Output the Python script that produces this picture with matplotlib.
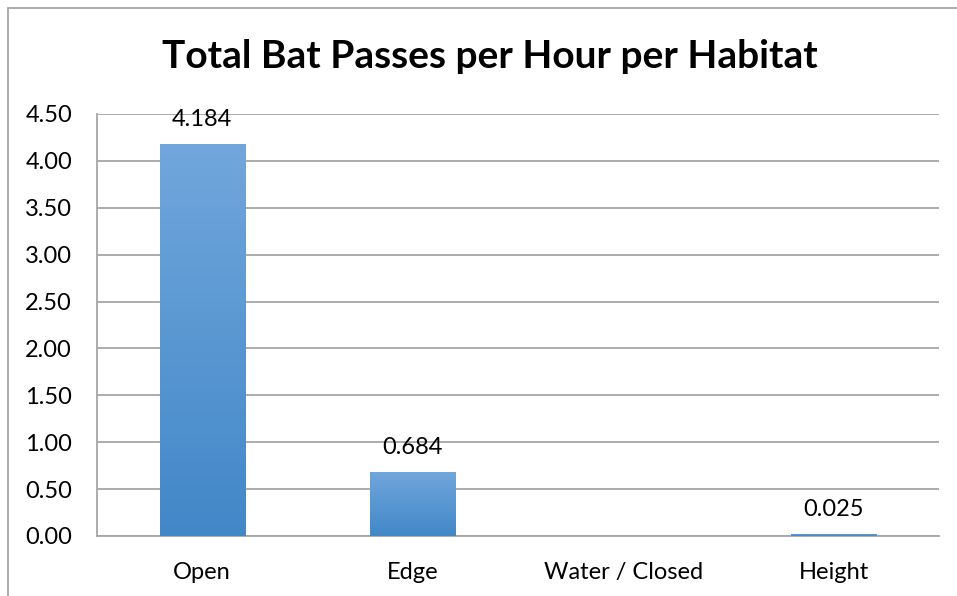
import numpy as np
import matplotlib.pyplot as plt
from matplotlib.patches import Rectangle
from matplotlib.colors import LinearSegmentedColormap

plt.rcParams['font.family'] = ['Lato', 'DejaVu Sans']

habitats = ['Open', 'Edge', 'Water / Closed', 'Height']
passes = [4.184, 0.684, np.nan, 0.025]
labels = ['4.184', '0.684', '', '0.025']
yticks = [0.0, 0.5, 1.0, 1.5, 2.0, 2.5, 3.0, 3.5, 4.0, 4.5]

W, H = 957, 596
fig = plt.figure(figsize=(W / 100, H / 100), dpi=100)
ax = fig.add_axes([97 / W, 1 - 536 / H, (939 - 97) / W, (536 - 114) / H])

# chart frame (cut off at right and bottom like the screenshot)
fig.patches.append(Rectangle((8 / W, -0.1), 1.2, 1 - 8 / H + 0.1, transform=fig.transFigure,
                             fill=False, edgecolor='#a6a6a6', linewidth=1.3))

x = np.arange(len(habitats))
bars = ax.bar(x, np.nan_to_num(passes), width=0.405, color='#5597d3', zorder=2)

# vertical gradient like Excel's default fill
cmap = LinearSegmentedColormap.from_list('g', ['#4287c8', '#71a7dc'])
grad = np.linspace(0, 1, 256).reshape(-1, 1)
for b, v in zip(bars, passes):
    if np.isnan(v) or v <= 0:
        b.set_visible(False)
        continue
    x0, w, h = b.get_x(), b.get_width(), b.get_height()
    im = ax.imshow(grad, cmap=cmap, aspect='auto', origin='lower',
                   extent=(x0, x0 + w, 0, h), zorder=3)
    im.set_clip_path(b)
    b.set_facecolor('none')

for xi, v, lab in zip(x, passes, labels):
    if lab:
        ax.annotate(lab, (xi, v), xytext=(0, 10), textcoords='offset points',
                    ha='center', va='bottom', fontsize=17, color='#000000')

ax.set_xlim(-0.5, len(habitats) - 0.5)
ax.set_ylim(0, 4.5)
ax.set_yticks(yticks)
ax.set_yticklabels([f'{t:.2f}' for t in yticks])
ax.set_xticks(x)
ax.set_xticklabels(habitats)
ax.tick_params(axis='both', length=0, labelsize=17, colors='#000000')
ax.tick_params(axis='y', pad=18)
ax.tick_params(axis='x', pad=19)
ax.yaxis.grid(True, color='#a6a6a6', linewidth=1.3, zorder=0)
ax.set_axisbelow(True)
for s in ['top', 'right']:
    ax.spines[s].set_visible(False)
for s in ['left', 'bottom']:
    ax.spines[s].set_color('#a6a6a6')
    ax.spines[s].set_linewidth(1.3)

fig.text(490 / W, 1 - 57 / H, 'Total Bat Passes per Hour per Habitat', ha='center', va='center',
         fontsize=28, fontweight='bold')

fig.savefig('out.png', dpi=100)
